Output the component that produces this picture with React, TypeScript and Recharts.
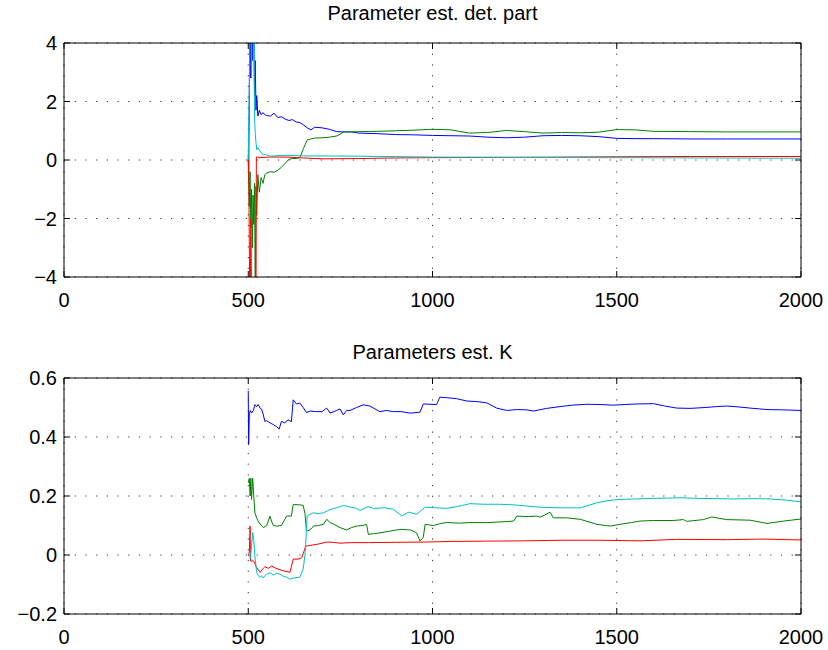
import React from "react";
import { LineChart, Line, XAxis, YAxis, CartesianGrid } from "recharts";

const FONT = "'Liberation Sans', Arial, Helvetica, sans-serif";

const xTicks = [0, 500, 1000, 1500, 2000];
const topYTicks = [-4, -2, 0, 2, 4];
const botYTicks = [-0.2, 0, 0.2, 0.4, 0.6];

const titleTop = "Parameter est. det. part";
const titleBottom = "Parameters est. K";

type P = [number, number];

// Top plot: "Parameter est. det. part"
const topBlue: P[] = [
  [500, 0.0], [501, -0.7], [503, 2.5], [505, 6], [507, 2.8], [509, 5], [511, 3.4], [513, 6], [515, 4.6],
  [517, 2.2], [519, 3.4], [521, 1.7], [523, 2.2], [526, 1.5], [530, 1.7], [535, 1.55], [540, 1.62],
  [545, 1.55], [550, 1.52], [560, 1.5], [570, 1.6], [580, 1.45], [590, 1.48], [600, 1.4], [610, 1.35],
  [620, 1.38], [630, 1.3], [640, 1.28], [650, 1.2], [660, 1.1], [670, 1.03], [680, 1.12], [700, 1.1],
  [720, 1.05], [740, 0.97], [760, 0.96], [780, 0.96], [800, 0.92], [850, 0.9], [900, 0.87], [950, 0.86],
  [1000, 0.84], [1050, 0.83], [1100, 0.82], [1150, 0.78], [1200, 0.76], [1250, 0.78], [1300, 0.83],
  [1350, 0.84], [1400, 0.83], [1450, 0.8], [1500, 0.74], [1550, 0.73], [1600, 0.73], [1700, 0.72],
  [1800, 0.72], [1900, 0.72], [2000, 0.72],
];
const topGreen: P[] = [
  [500, 0.2], [501, -0.6], [503, -1.6], [505, -0.4], [507, -2.3], [509, -1.0], [511, -3.0], [513, -1.2],
  [515, -2.2], [517, -0.8], [519, -4.2], [521, -0.9], [523, -1.9], [526, -0.5], [530, -1.1], [535, -0.6],
  [540, -0.8], [545, -0.5], [550, -0.45], [560, -0.4], [570, -0.42], [580, -0.35], [590, -0.25],
  [600, -0.12], [610, 0.02], [620, 0.05], [630, 0.05], [640, 0.08], [650, 0.4], [660, 0.68], [670, 0.72],
  [680, 0.75], [700, 0.76], [720, 0.78], [740, 0.82], [760, 0.96], [780, 0.96], [800, 0.97], [850, 0.98],
  [900, 1.0], [950, 1.02], [1000, 1.05], [1050, 1.03], [1100, 0.92], [1150, 0.94], [1200, 1.01],
  [1250, 0.97], [1300, 0.92], [1350, 0.94], [1400, 0.93], [1450, 0.95], [1500, 1.04], [1550, 1.03],
  [1600, 0.98], [1700, 0.97], [1800, 0.96], [1900, 0.96], [2000, 0.96],
];
const topRed: P[] = [
  [500, 0.0], [501, 0.1], [503, -3], [505, -6], [507, -2], [509, -5], [511, -6], [513, -4.5], [515, -6],
  [517, -5], [519, -6], [521, -5.5], [522, 0.1], [526, 0.1], [530, 0.08], [560, 0.1], [600, 0.1],
  [650, 0.07], [700, 0.04], [800, 0.05], [900, 0.07], [1000, 0.08], [1200, 0.09], [1500, 0.11],
  [1700, 0.12], [2000, 0.12],
];
const topCyan: P[] = [
  [500, 0.0], [501, 1.0], [503, 2.5], [505, 5], [507, 6], [509, 3], [511, 6], [513, 5], [515, 6],
  [517, 1.5], [519, 0.9], [521, 0.6], [523, 0.35], [526, 0.42], [530, 0.34], [535, 0.25], [540, 0.2],
  [550, 0.17], [560, 0.13], [580, 0.15], [600, 0.16], [650, 0.14], [700, 0.14], [800, 0.13],
  [1000, 0.1], [1500, 0.08], [2000, 0.06],
];

// Bottom plot: "Parameters est. K"
const kBlue: P[] = [
  [500, 0.556], [501, 0.374], [503, 0.48], [506, 0.49], [509, 0.481], [514, 0.49], [518, 0.51],
  [523, 0.503], [527, 0.51], [532, 0.498], [536, 0.495], [541, 0.475], [545, 0.453], [550, 0.455],
  [559, 0.448], [568, 0.442], [577, 0.435], [584, 0.427], [590, 0.453], [599, 0.448], [608, 0.458],
  [617, 0.452], [622, 0.526], [631, 0.512], [640, 0.515], [649, 0.5], [658, 0.483], [668, 0.488],
  [686, 0.486], [700, 0.486], [713, 0.498], [722, 0.481], [740, 0.49], [749, 0.495], [758, 0.475],
  [767, 0.49], [776, 0.49], [794, 0.5], [812, 0.509], [830, 0.505], [857, 0.486], [875, 0.49],
  [894, 0.486], [915, 0.486], [939, 0.481], [966, 0.484], [975, 0.512], [1011, 0.51], [1020, 0.535],
  [1040, 0.533], [1065, 0.53], [1093, 0.522], [1120, 0.52], [1147, 0.516], [1174, 0.498], [1201, 0.49],
  [1230, 0.493], [1256, 0.492], [1274, 0.488], [1310, 0.497], [1346, 0.503], [1380, 0.508],
  [1419, 0.511], [1455, 0.51], [1491, 0.508], [1520, 0.51], [1555, 0.512], [1600, 0.513], [1630, 0.505],
  [1663, 0.498], [1699, 0.497], [1740, 0.5], [1770, 0.503], [1798, 0.505], [1830, 0.502], [1862, 0.498],
  [1908, 0.493], [1950, 0.492], [2000, 0.49],
];
const kGreen: P[] = [
  [500, 0.245], [503, 0.26], [505, 0.2], [507, 0.26], [509, 0.188], [512, 0.26], [514, 0.22],
  [518, 0.143], [523, 0.125], [527, 0.115], [532, 0.105], [541, 0.093], [550, 0.1], [559, 0.132],
  [563, 0.115], [568, 0.1], [577, 0.098], [590, 0.1], [599, 0.12], [604, 0.132], [617, 0.132],
  [622, 0.171], [640, 0.17], [649, 0.168], [654, 0.14], [658, 0.081], [668, 0.085], [677, 0.098],
  [690, 0.1], [704, 0.104], [713, 0.121], [722, 0.11], [731, 0.105], [749, 0.093], [767, 0.085],
  [780, 0.093], [794, 0.098], [810, 0.1], [821, 0.104], [826, 0.07], [840, 0.072], [857, 0.075],
  [880, 0.08], [912, 0.087], [940, 0.085], [957, 0.075], [966, 0.047], [975, 0.06], [980, 0.104],
  [1002, 0.1], [1020, 0.106], [1038, 0.11], [1074, 0.108], [1100, 0.11], [1150, 0.11], [1183, 0.112],
  [1220, 0.115], [1229, 0.132], [1260, 0.13], [1283, 0.132], [1292, 0.128], [1319, 0.145], [1328, 0.126],
  [1364, 0.126], [1401, 0.121], [1446, 0.104], [1482, 0.098], [1509, 0.104], [1540, 0.11], [1563, 0.115],
  [1600, 0.117], [1654, 0.117], [1681, 0.12], [1690, 0.114], [1735, 0.12], [1758, 0.129], [1798, 0.12],
  [1862, 0.118], [1908, 0.107], [1953, 0.115], [2000, 0.122],
];
const kRed: P[] = [
  [500, -0.003], [503, 0.01], [505, 0.098], [506, -0.02], [509, -0.02], [514, -0.02], [518, -0.03],
  [523, -0.042], [532, -0.059], [541, -0.045], [545, -0.04], [555, -0.045], [563, -0.037], [575, -0.045],
  [586, -0.05], [600, -0.055], [613, -0.059], [622, -0.014], [635, -0.014], [645, -0.01], [656, 0.03],
  [670, 0.033], [686, 0.036], [700, 0.04], [713, 0.044], [730, 0.043], [749, 0.04], [780, 0.042],
  [826, 0.042], [900, 0.043], [984, 0.044], [1050, 0.046], [1147, 0.047], [1250, 0.048], [1346, 0.05],
  [1450, 0.05], [1563, 0.048], [1663, 0.053], [1800, 0.052], [1900, 0.054], [2000, 0.051],
];
const kCyan: P[] = [
  [500, -0.003], [503, 0.0], [506, -0.01], [509, 0.03], [512, 0.076], [515, 0.05], [518, -0.003],
  [521, -0.04], [523, -0.059], [527, -0.07], [532, -0.076], [536, -0.07], [541, -0.078], [545, -0.07],
  [550, -0.065], [559, -0.06], [568, -0.068], [577, -0.062], [586, -0.065], [595, -0.072], [604, -0.075],
  [613, -0.082], [622, -0.078], [640, -0.075], [649, -0.048], [654, 0.0], [660, 0.132], [668, 0.138],
  [677, 0.143], [690, 0.14], [704, 0.143], [722, 0.154], [740, 0.16], [758, 0.168], [776, 0.163],
  [794, 0.158], [803, 0.151], [825, 0.164], [840, 0.158], [870, 0.16], [894, 0.155], [917, 0.132],
  [935, 0.145], [957, 0.138], [980, 0.162], [1010, 0.16], [1038, 0.158], [1074, 0.166], [1102, 0.174],
  [1140, 0.172], [1183, 0.172], [1220, 0.17], [1256, 0.166], [1292, 0.162], [1346, 0.16], [1401, 0.16],
  [1446, 0.177], [1470, 0.183], [1500, 0.188], [1550, 0.19], [1600, 0.192], [1672, 0.194], [1720, 0.192],
  [1817, 0.19], [1870, 0.191], [1917, 0.19], [1960, 0.186], [2000, 0.18],
];

const COLORS = { blue: "#0000ff", green: "#008000", red: "#ff0000", cyan: "#00bfbf" };

const toPts = (s: P[]) => s.map(([x, y]) => ({ x, y }));

const fmt = (v: number) => {
  const r = Math.round(v * 100) / 100;
  const s = String(Math.abs(r));
  return r < 0 ? "\u2212" + s : s;
};

const TICK = 6;

const BottomTick = (props: any) => {
  const { x, y, payload } = props;
  return (
    <g>
      <line x1={x} y1={y} x2={x} y2={y - TICK} stroke="#000" strokeWidth={1} />
      <text x={x} y={y + 30} textAnchor="middle" fontSize={20} fontFamily={FONT} fill="#000">
        {fmt(payload.value)}
      </text>
    </g>
  );
};
const TopTick = (props: any) => {
  const { x, y } = props;
  return <line x1={x} y1={y} x2={x} y2={y + TICK} stroke="#000" strokeWidth={1} />;
};
const LeftTick = (props: any) => {
  const { x, y, payload } = props;
  return (
    <g>
      <line x1={x} y1={y} x2={x + TICK} y2={y} stroke="#000" strokeWidth={1} />
      <text x={x - 7} y={y + 7} textAnchor="end" fontSize={20} fontFamily={FONT} fill="#000">
        {fmt(payload.value)}
      </text>
    </g>
  );
};
const RightTick = (props: any) => {
  const { x, y } = props;
  return <line x1={x} y1={y} x2={x - TICK} y2={y} stroke="#000" strokeWidth={1} />;
};

type PanelProps = {
  series: { key: string; data: P[]; color: string }[];
  yTicks: number[];
  margin: { top: number; right: number; bottom: number; left: number };
  bottomHeight: number;
};

const Panel = ({ series, yTicks, margin, bottomHeight }: PanelProps) => (
  <LineChart width={828} height={325} margin={margin}>
    <CartesianGrid
      xAxisId="b"
      yAxisId="l"
      stroke="#333"
      strokeDasharray="1.2 9.5"
      verticalValues={xTicks}
      horizontalValues={yTicks}
    />
    <XAxis
      xAxisId="b"
      dataKey="x"
      type="number"
      domain={[0, 2000]}
      ticks={xTicks}
      allowDataOverflow
      orientation="bottom"
      height={bottomHeight}
      tickSize={0}
      tickMargin={0}
      tickLine={false}
      tick={<BottomTick />}
      axisLine={{ stroke: "#000" }}
      interval={0}
    />
    <XAxis
      xAxisId="t"
      dataKey="x"
      type="number"
      domain={[0, 2000]}
      ticks={xTicks}
      allowDataOverflow
      orientation="top"
      height={1}
      tickSize={0}
      tickMargin={0}
      tickLine={false}
      tick={<TopTick />}
      axisLine={{ stroke: "#000" }}
      interval={0}
    />
    <YAxis
      yAxisId="l"
      type="number"
      domain={[yTicks[0], yTicks[yTicks.length - 1]]}
      ticks={yTicks}
      allowDataOverflow
      orientation="left"
      width={64}
      tickSize={0}
      tickMargin={0}
      tickLine={false}
      tick={<LeftTick />}
      axisLine={{ stroke: "#000" }}
      interval={0}
    />
    <YAxis
      yAxisId="r"
      type="number"
      domain={[yTicks[0], yTicks[yTicks.length - 1]]}
      ticks={yTicks}
      allowDataOverflow
      orientation="right"
      width={1}
      tickSize={0}
      tickMargin={0}
      tickLine={false}
      tick={<RightTick />}
      axisLine={{ stroke: "#000" }}
      interval={0}
    />
    {series.map((s) => (
      <Line
        key={s.key}
        xAxisId="b"
        yAxisId="l"
        data={toPts(s.data)}
        dataKey="y"
        type="linear"
        stroke={s.color}
        strokeWidth={1}
        dot={false}
        activeDot={false}
        isAnimationActive={false}
      />
    ))}
  </LineChart>
);

export default function App() {
  const topSeries = [
    { key: "b", data: topBlue, color: COLORS.blue },
    { key: "g", data: topGreen, color: COLORS.green },
    { key: "r", data: topRed, color: COLORS.red },
    { key: "c", data: topCyan, color: COLORS.cyan },
  ];
  const botSeries = [
    { key: "b", data: kBlue, color: COLORS.blue },
    { key: "g", data: kGreen, color: COLORS.green },
    { key: "r", data: kRed, color: COLORS.red },
    { key: "c", data: kCyan, color: COLORS.cyan },
  ];
  return (
    <div style={{ position: "relative", width: 828, height: 650, background: "#fff" }}>
      <style>{`html,body{margin:0;padding:0;} html{overflow:hidden;} .recharts-surface{overflow:visible;}`}</style>
      <div style={{ position: "absolute", left: 0, top: 0 }}>
        <Panel
          series={topSeries}
          yTicks={topYTicks}
          margin={{ top: 42, right: 26, bottom: 17, left: 0 }}
          bottomHeight={31}
        />
      </div>
      <div style={{ position: "absolute", left: 0, top: 325 }}>
        <Panel
          series={botSeries}
          yTicks={botYTicks}
          margin={{ top: 52, right: 26, bottom: 8, left: 0 }}
          bottomHeight={28}
        />
      </div>
      <svg
        width={828}
        height={650}
        style={{ position: "absolute", left: 0, top: 0, pointerEvents: "none" }}
      >
        <text x={432.5} y={20} textAnchor="middle" fontSize={20} fontFamily={FONT} fill="#000">
          {titleTop}
        </text>
        <text x={432.5} y={359} textAnchor="middle" fontSize={20} fontFamily={FONT} fill="#000">
          {titleBottom}
        </text>
      </svg>
    </div>
  );
}
